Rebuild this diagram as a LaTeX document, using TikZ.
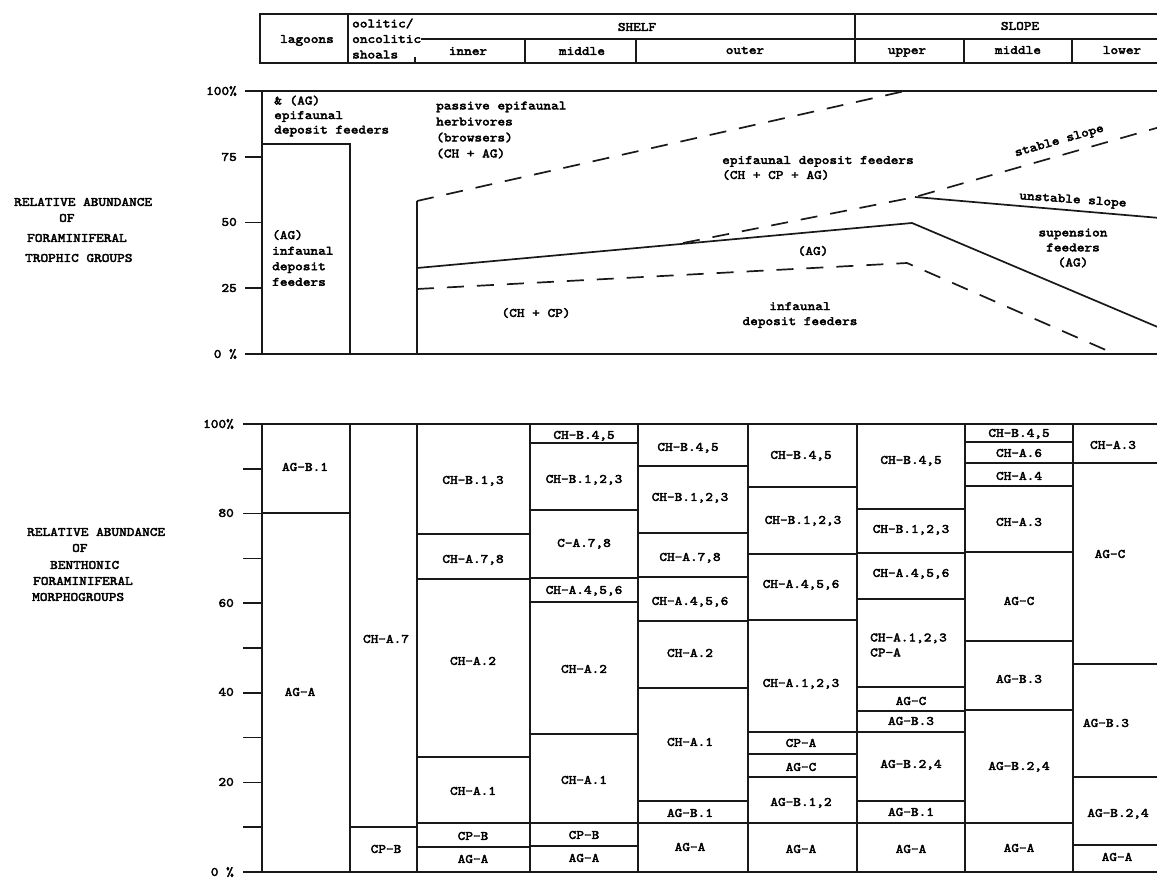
\documentclass[tikz,border=0pt]{standalone}
\usepackage{fontspec}
\newfontfamily\twfam{lmmono10-regular}[Extension=.otf,FakeStretch=1.14,FakeBold=3]
\newcommand{\tws}{\twfam\fontsize{12.8}{15}\selectfont}
\tikzset{
  ln/.style={line width=1.7pt, draw=black!90},
  dsh/.style={line width=1.7pt, draw=black!90, dash pattern=on 17pt off 13pt},
  cl/.style={inner sep=0pt, font=\tws, text height=7.8pt, text depth=0pt},
  blk/.style={inner sep=0pt, font=\tws, align=left, anchor=west},
  blc/.style={inner sep=0pt, font=\tws, align=center},
}
\begin{document}
\begin{tikzpicture}[x=1pt,y=-1pt]
\fill[white] (0,0) rectangle (1157,880);
\useasboundingbox (0,0) rectangle (1157,880);

% ---------------- header ----------------
\draw[ln] (1160,14) -- (260,14) -- (260,63) -- (1160,63);
\draw[ln] (348,14) -- (348,63);
\draw[ln] (415,57) -- (415,63);
\draw[ln] (525,39) -- (525,63);
\draw[ln] (636,39) -- (636,63);
\draw[ln] (855,14) -- (855,63);
\draw[ln] (964,39) -- (964,63);
\draw[ln] (1072,39) -- (1072,63);
\node[cl] (hlag) at (307,39) {lagoons};
\node[blk, font=\twfam\fontsize{12.8}{15.5}\selectfont] (hoo) at (352,38.5) {oolitic/\\oncolitic\\shoals};
\coordinate (hmid) at (0,39);
\draw[ln] (hoo.east |- hmid) -- (1160,39);
\node[cl] (hshelf) at (637,27) {SHELF};
\node[cl] (hslope) at (1020,26) {SLOPE};
\node[cl] (hinner) at (468,51) {inner};
\node[cl] (hmiddle) at (582,51) {middle};
\node[cl] (houter) at (745,50) {outer};
\node[cl] (hupper) at (907,50) {upper};
\node[cl] (hsmid) at (1018,50) {middle};
\node[cl] (hlower) at (1122,50) {lower};

% ---------------- left titles ----------------
\node[cl, anchor=west] (t1a) at (14,202) {RELATIVE ABUNDANCE};
\node[cl, anchor=west] (t1b) at (59,218) {OF};
\node[cl, anchor=west] (t1c) at (27,238) {FORAMINIFERAL};
\node[cl, anchor=west] (t1d) at (25,258) {TROPHIC GROUPS};
\node[cl, anchor=west] (t2a) at (27,532) {RELATIVE ABUNDANCE};
\node[cl, anchor=west] (t2b) at (72,548) {OF};
\node[cl, anchor=west] (t2c) at (50,565) {BENTHONIC};
\node[cl, anchor=west] (t2d) at (33,581) {FORAMINIFERAL};
\node[cl, anchor=west] (t2e) at (32,597) {MORPHOGROUPS};

% ---------------- upper chart ----------------
\draw[ln] (245,91) -- (1160,91);
\draw[ln] (245,354) -- (1160,354);
\draw[ln] (262,91) -- (262,354);
\foreach \yy in {156.75,222.5,288.25} \draw[ln] (245,\yy) -- (262,\yy);
\node[cl, anchor=east] (u100) at (237,91) {100\%};
\node[cl, anchor=east] (u75) at (237,157) {75};
\node[cl, anchor=east] (u50) at (237,222) {50};
\node[cl, anchor=east] (u25) at (237,288) {25};
\node[cl, anchor=east] (u0) at (237,354) {0 \%};

\draw[ln] (262,144) -- (350,144) -- (350,354);
\draw[ln] (417,354) -- (417,201);
\draw[dsh] (417,201) -- (905,91);
\draw[ln] (417,268) -- (912,223) -- (1160,328);
\draw[dsh] (417,289) -- (907,263) -- (1115,354);
\draw[dsh] (683,243) -- (915,197) -- (1160,127);
\draw[ln] (915,197) -- (1160,218);

\node[blk, font=\twfam\fontsize{12.8}{14.5}\selectfont] (ua) at (274,116) {\& (AG)\\epifaunal\\deposit feeders};
\node[blk, font=\twfam\fontsize{12.8}{15.6}\selectfont] (ub) at (272,258) {(AG)\\infaunal\\deposit\\feeders};
\node[blk, font=\twfam\fontsize{12.8}{16}\selectfont] (uc) at (436,130) {passive epifaunal\\herbivores\\(browsers)\\(CH + AG)};
\node[blk] (ud) at (722,168) {epifaunal deposit feeders\\(CH + CP + AG)};
\node[cl, rotate=16] (ue) at (1059,140) {stable slope};
\node[cl, rotate=-4] (uf) at (1073,199) {unstable slope};
\node[blc] (ug) at (1073,248) {supension\\feeders\\(AG)};
\node[cl] (uh) at (813,251) {(AG)};
\node[cl] (ui) at (536,313) {(CH + CP)};
\node[blc] (uj) at (800,315) {infaunal\\deposit feeders};

% ---------------- lower chart ----------------
\draw[ln] (243,424) -- (1160,424);
\draw[ln] (243,872) -- (1160,872);
\draw[ln] (262,424) -- (262,872);
\foreach \p in {10,20,...,90} \draw[ln] (243,{872-4.48*\p}) -- (262,{872-4.48*\p});
\node[cl, anchor=east] (l100) at (234,424) {100\%};
\node[cl, anchor=east] (l80) at (234,513) {80};
\node[cl, anchor=east] (l60) at (234,603) {60};
\node[cl, anchor=east] (l40) at (234,692) {40};
\node[cl, anchor=east] (l20) at (234,782) {20};
\node[cl, anchor=east] (l0) at (234,872) {0 \%};

\foreach \xx in {350,417,530,638,748,857,965,1073} \draw[ln] (\xx,424) -- (\xx,872);

\draw[ln] (262,513) -- (350,513);
\draw[ln] (350,827) -- (417,827);
\foreach \yy in {534,579,757,823,847} \draw[ln] (417,\yy) -- (530,\yy);
\foreach \yy in {443,510,578,602,734,823,846} \draw[ln] (530,\yy) -- (638,\yy);
\foreach \yy in {466,533,577,621,688,801,823} \draw[ln] (638,\yy) -- (748,\yy);
\foreach \yy in {487,554,620,732,754,777,823} \draw[ln] (748,\yy) -- (857,\yy);
\foreach \yy in {509,553,599,687,711,732,801,823} \draw[ln] (857,\yy) -- (965,\yy);
\foreach \yy in {442,463,486,552,641,710,823} \draw[ln] (965,\yy) -- (1073,\yy);
\foreach \yy in {463,664,777,845} \draw[ln] (1073,\yy) -- (1160,\yy);

% column 1
\node[cl] (a1) at (305,467) {AG-B.1};
\node[cl] (a2) at (300,692) {AG-A};
% column 2
\node[cl] (b1) at (386,639) {CH-A.7};
\node[cl] (b2) at (386,849) {CP-B};
% column 3
\node[cl] (c1) at (473,480) {CH-B.1,3};
\node[cl] (c2) at (473,559) {CH-A.7,8};
\node[cl] (c3) at (473,661) {CH-A.2};
\node[cl] (c4) at (473,791) {CH-A.1};
\node[cl] (c5) at (473,836) {CP-B};
\node[cl] (c6) at (473,859) {AG-A};
% column 4
\node[cl] (d1) at (584,435) {CH-B.4,5};
\node[cl] (d2) at (584,479) {CH-B.1,2,3};
\node[cl] (d3) at (584,543) {C-A.7,8};
\node[cl] (d4) at (584,590) {CH-A.4,5,6};
\node[cl] (d5) at (584,669) {CH-A.2};
\node[cl] (d6) at (584,780) {CH-A.1};
\node[cl] (d7) at (584,835) {CP-B};
\node[cl] (d8) at (584,858) {AG-A};
% column 5
\node[cl] (e1) at (688,447) {CH-B.4,5};
\node[cl] (e2) at (690,497) {CH-B.1,2,3};
\node[cl] (e3) at (690,557) {CH-A.7,8};
\node[cl] (e4) at (690,601) {CH-A.4,5,6};
\node[cl] (e5) at (690,653) {CH-A.2};
\node[cl] (e6) at (690,742) {CH-A.1};
\node[cl] (e7) at (690,813) {AG-B.1};
\node[cl] (e8) at (690,847) {AG-A};
% column 6
\node[cl] (f1) at (801,455) {CH-B.4,5};
\node[cl] (f2) at (803,520) {CH-B.1,2,3};
\node[cl] (f3) at (801,584) {CH-A.4,5,6};
\node[cl] (f4) at (801,683) {CH-A.1,2,3};
\node[cl] (f5) at (801,743) {CP-A};
\node[cl] (f6) at (801,767) {AG-C};
\node[cl] (f7) at (801,802) {AG-B.1,2};
\node[cl] (f8) at (801,849) {AG-A};
% column 7
\node[cl] (g1) at (911,460) {CH-B.4,5};
\node[cl] (g2) at (911,529) {CH-B.1,2,3};
\node[cl] (g3) at (911,573) {CH-A.4,5,6};
\node[blk] (g4) at (870,645) {CH-A.1,2,3\\CP-A};
\node[cl] (g5) at (911,701) {AG-C};
\node[cl] (g6) at (911,721) {AG-B.3};
\node[cl] (g7) at (911,764) {AG-B.2,4};
\node[cl] (g8) at (911,812) {AG-B.1};
\node[cl] (g9) at (911,849) {AG-A};
% column 8
\node[cl] (h1) at (1019,433) {CH-B.4,5};
\node[cl] (h2) at (1019,453) {CH-A.6};
\node[cl] (h3) at (1019,476) {CH-A.4};
\node[cl] (h4) at (1019,522) {CH-A.3};
\node[cl] (h5) at (1019,601) {AG-C};
\node[cl] (h6) at (1019,679) {AG-B.3};
\node[cl] (h7) at (1019,766) {AG-B.2,4};
\node[cl] (h8) at (1019,848) {AG-A};
% column 9
\node[cl] (k1) at (1113,445) {CH-A.3};
\node[cl] (k2) at (1110,554) {AG-C};
\node[cl] (k3) at (1106,723) {AG-B.3};
\node[cl] (k4) at (1118,813) {AG-B.2,4};
\node[cl] (k5) at (1117,857) {AG-A};
\end{tikzpicture}
\end{document}
